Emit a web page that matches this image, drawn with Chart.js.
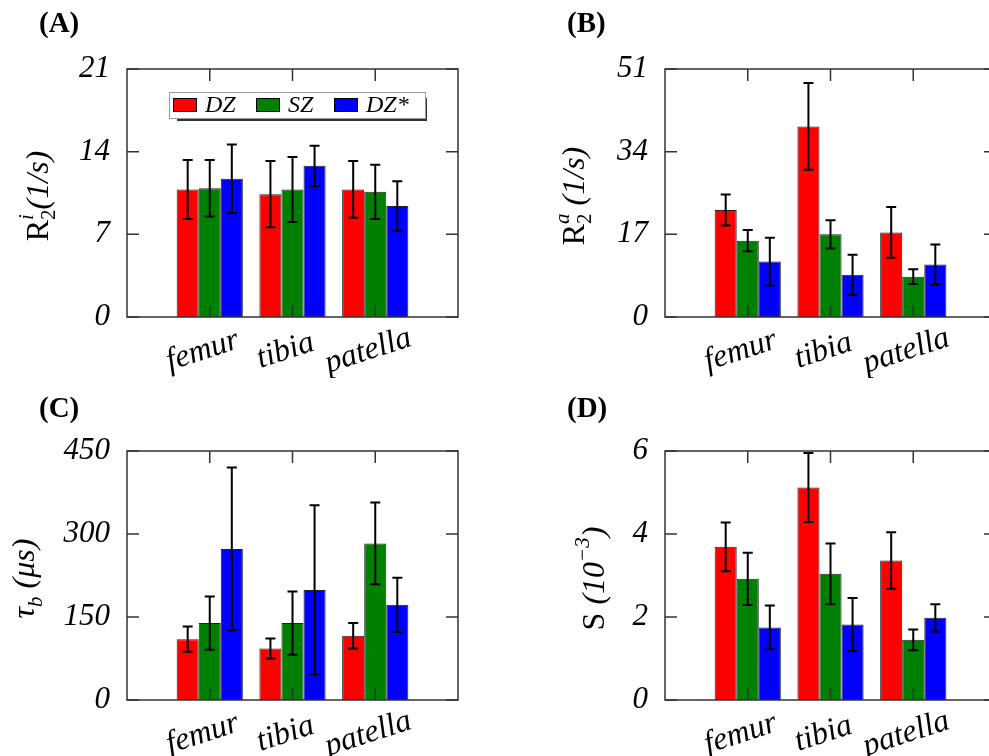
<!DOCTYPE html>
<html>
<head>
<meta charset="utf-8">
<script src="https://cdn.jsdelivr.net/npm/chart.js@4.4.1/dist/chart.umd.min.js"></script>
<style>
body { margin: 0; background: #fff; }
#wrap { position: relative; width: 989px; height: 756px; overflow: hidden; background: #fff; }
#wrap canvas { position: absolute; }
</style>
</head>
<body>
<div id="wrap">
  <canvas id="cA" width="494" height="378" style="left:0px;top:0px"></canvas>
  <canvas id="cB" width="510" height="378" style="left:494px;top:0px"></canvas>
  <canvas id="cC" width="494" height="378" style="left:0px;top:378px"></canvas>
  <canvas id="cD" width="510" height="378" style="left:494px;top:378px"></canvas>
</div>
<script>
var categories = ['femur', 'tibia', 'patella'];
var seriesNames = ['DZ', 'SZ', 'DZ*'];
var seriesColors = ['#ff0000', '#008000', '#0000ff'];

// (A) R2 intrinsic (1/s)
var r2iDZ = [10.8, 10.4, 10.8];
var r2iSZ = [10.9, 10.8, 10.6];
var r2iDZs = [11.7, 12.8, 9.4];
var r2iDZErr = [2.5, 2.8, 2.4];
var r2iSZErr = [2.4, 2.75, 2.3];
var r2iDZsErr = [2.9, 1.7, 2.1];
var r2iTicks = [0, 7, 14, 21];

// (B) R2 anisotropic (1/s)
var r2aDZ = [22.0, 39.2, 17.4];
var r2aSZ = [15.7, 17.0, 8.3];
var r2aDZs = [11.4, 8.7, 10.8];
var r2aDZErr = [3.2, 8.9, 5.2];
var r2aSZErr = [2.2, 2.9, 1.5];
var r2aDZsErr = [4.9, 4.1, 4.1];
var r2aTicks = [0, 17, 34, 51];

// (C) tau_b (us)
var tauDZ = [110, 93, 116];
var tauSZ = [139, 139, 283];
var tauDZs = [273, 199, 172];
var tauDZErr = [23, 18, 23];
var tauSZErr = [48, 57, 74];
var tauDZsErr = [147, 153, 49];
var tauTicks = [0, 150, 300, 450];

// (D) S (10^-3)
var sDZ = [3.69, 5.12, 3.36];
var sSZ = [2.92, 3.04, 1.45];
var sDZs = [1.75, 1.82, 1.98];
var sDZErr = [0.59, 0.83, 0.68];
var sSZErr = [0.63, 0.73, 0.25];
var sDZsErr = [0.53, 0.64, 0.33];
var sTicks = [0, 2, 4, 6];

var SERIF = '"Liberation Serif", "DejaVu Serif", serif';
var xLabels = [''].concat(categories).concat(['']);

function fontOf(p) {
    return (p.italic ? 'italic ' : '') + (p.bold ? 'bold ' : '') + p.size + 'px ' + SERIF;
}

// text with sub/superscripts, drawn along the current baseline
function drawRich(ctx, parts, cx, cy) {
    var x = 0, last = 0, items = [];
    parts.forEach(function(p) {
        ctx.font = fontOf(p);
        var w = ctx.measureText(p.t).width;
        var sx = p.over ? last : x;
        x = Math.max(x, sx + w);
        last = sx;
        items.push({ p: p, x: sx });
    });
    var x0 = cx - x / 2;
    ctx.textAlign = 'left';
    ctx.textBaseline = 'alphabetic';
    items.forEach(function(it) {
        ctx.font = fontOf(it.p);
        ctx.fillText(it.p.t, x0 + it.x, cy + (it.p.dy || 0));
    });
}

function makePlugin(info) {
    return {
        id: 'panel' + info.letter,
        afterDraw: function(chart) {
            var ctx = chart.ctx, a = chart.chartArea;
            var xs = chart.scales.x, ys = chart.scales.y;
            ctx.save();

            // error bars
            ctx.strokeStyle = '#000';
            ctx.lineWidth = 2;
            chart.data.datasets.forEach(function(ds, i) {
                var meta = chart.getDatasetMeta(i);
                meta.data.forEach(function(bar, j) {
                    var v = ds.data[j];
                    if (v == null) return;
                    var e = ds.errors[j];
                    var t = ys.getPixelForValue(v + e), b = ys.getPixelForValue(v - e);
                    ctx.beginPath();
                    ctx.moveTo(bar.x, t); ctx.lineTo(bar.x, b);
                    ctx.moveTo(bar.x - 5, t); ctx.lineTo(bar.x + 5, t);
                    ctx.moveTo(bar.x - 5, b); ctx.lineTo(bar.x + 5, b);
                    ctx.stroke();
                });
            });

            // frame and inward ticks
            ctx.strokeStyle = '#333';
            ctx.lineWidth = 1.5;
            ctx.strokeRect(a.left, a.top, a.right - a.left, a.bottom - a.top);
            ctx.beginPath();
            for (var j = 1; j <= categories.length; j++) {
                var px = xs.getPixelForValue(j);
                ctx.moveTo(px, a.top); ctx.lineTo(px, a.top + 12);
                ctx.moveTo(px, a.bottom); ctx.lineTo(px, a.bottom - 12);
            }
            ys.ticks.forEach(function(t) {
                var py = ys.getPixelForValue(t.value);
                ctx.moveTo(a.left, py); ctx.lineTo(a.left + 12, py);
                ctx.moveTo(a.right - 12, py); ctx.lineTo(a.right, py);
            });
            ctx.stroke();

            // category labels, tilted
            ctx.fillStyle = '#000';
            ctx.font = 'italic 32px ' + SERIF;
            ctx.textAlign = 'center';
            ctx.textBaseline = 'middle';
            categories.forEach(function(c, k) {
                var px = xs.getPixelForValue(k + 1);
                ctx.save();
                ctx.translate(px - 7, a.bottom + 34);
                ctx.rotate(-18 * Math.PI / 180);
                ctx.fillText(c, 0, 0);
                ctx.restore();
            });

            // y axis title
            ctx.save();
            ctx.translate(info.titleX, (a.top + a.bottom) / 2 + 3);
            ctx.rotate(-Math.PI / 2);
            drawRich(ctx, info.title, 0, 0);
            ctx.restore();

            // panel letter
            ctx.font = 'bold 29px ' + SERIF;
            ctx.textAlign = 'left';
            ctx.textBaseline = 'alphabetic';
            ctx.fillText('(' + info.letter + ')', info.letterX, info.letterY);

            // legend box
            if (info.legend) {
                var lx = 169, ly = 92, lw = 256, lh = 26;
                ctx.fillStyle = '#333';
                ctx.fillRect(lx + 8, ly + lh, lw - 6, 3);
                ctx.fillRect(lx + lw, ly + 6, 2, lh - 3);
                ctx.fillStyle = '#fff';
                ctx.fillRect(lx, ly, lw, lh);
                ctx.strokeStyle = '#999';
                ctx.lineWidth = 1;
                ctx.strokeRect(lx + 0.5, ly + 0.5, lw, lh);
                var sw = [173, 256, 334];
                seriesNames.forEach(function(n, k) {
                    ctx.fillStyle = seriesColors[k];
                    ctx.fillRect(sw[k], 98, 24, 14);
                    ctx.strokeStyle = '#000';
                    ctx.strokeRect(sw[k] + 0.5, 98.5, 23, 13);
                    ctx.fillStyle = '#000';
                    ctx.font = 'italic 24px ' + SERIF;
                    ctx.textBaseline = 'middle';
                    ctx.fillText(n, sw[k] + 32, 106);
                });
            }
            ctx.restore();
        }
    };
}

function makePanel(id, info) {
    var vals = info.values, errs = info.errors, ticks = info.ticks;
    var datasets = seriesNames.map(function(n, k) {
        return {
            label: n,
            data: [null].concat(vals[k]).concat([null]),
            errors: [0].concat(errs[k]).concat([0]),
            backgroundColor: seriesColors[k],
            borderColor: '#222',
            borderWidth: 1,
            categoryPercentage: 0.8,
            barPercentage: 1.0
        };
    });
    return new Chart(document.getElementById(id), {
        type: 'bar',
        data: { labels: xLabels, datasets: datasets },
        options: {
            responsive: false,
            animation: false,
            layout: { padding: { left: 0, top: info.pad[0], right: info.pad[1], bottom: info.pad[2] } },
            plugins: { legend: { display: false }, tooltip: { enabled: false } },
            scales: {
                x: { display: false, offset: false, grid: { display: false } },
                y: {
                    min: 0,
                    max: ticks[ticks.length - 1],
                    afterBuildTicks: function(s) { s.ticks = ticks.map(function(v) { return { value: v }; }); },
                    afterFit: function(s) { s.width = info.axisWidth; },
                    grid: { display: false, drawTicks: false },
                    border: { display: false },
                    ticks: { padding: 17, color: '#000', font: { family: SERIF, style: 'italic', size: 31 } }
                }
            }
        },
        plugins: [makePlugin(info)]
    });
}

makePanel('cA', {
    letter: 'A', letterX: 39, letterY: 32, legend: true,
    values: [r2iDZ, r2iSZ, r2iDZs], errors: [r2iDZErr, r2iSZErr, r2iDZsErr], ticks: r2iTicks,
    axisWidth: 127, pad: [69, 36, 61], titleX: 48,
    title: [{ t: 'R', size: 32 }, { t: '2', size: 21, dy: 7 }, { t: 'i', size: 21, italic: true, dy: -15, over: true },
            { t: '(1/s)', size: 32, italic: true }]
});
makePanel('cB', {
    letter: 'B', letterX: 73, letterY: 32,
    values: [r2aDZ, r2aSZ, r2aDZs], errors: [r2aDZErr, r2aSZErr, r2aDZsErr], ticks: r2aTicks,
    axisWidth: 171, pad: [69, 8, 61], titleX: 90,
    title: [{ t: 'R', size: 32 }, { t: '2', size: 21, dy: 7 }, { t: 'a', size: 21, italic: true, dy: -15, over: true },
            { t: ' (1/s)', size: 32, italic: true }]
});
makePanel('cC', {
    letter: 'C', letterX: 39, letterY: 39,
    values: [tauDZ, tauSZ, tauDZs], errors: [tauDZErr, tauSZErr, tauDZsErr], ticks: tauTicks,
    axisWidth: 127, pad: [73, 36, 56], titleX: 34,
    title: [{ t: '\u03c4', size: 32, italic: true }, { t: 'b', size: 21, italic: true, dy: 8 },
            { t: ' (\u03bcs)', size: 32, italic: true }]
});
makePanel('cD', {
    letter: 'D', letterX: 73, letterY: 39,
    values: [sDZ, sSZ, sDZs], errors: [sDZErr, sSZErr, sDZsErr], ticks: sTicks,
    axisWidth: 171, pad: [73, 8, 56], titleX: 110,
    title: [{ t: 'S', size: 32 }, { t: ' (10', size: 32, italic: true }, { t: '\u22123', size: 21, italic: true, dy: -15 },
            { t: ')', size: 32, italic: true }]
});
</script>
</body>
</html>
